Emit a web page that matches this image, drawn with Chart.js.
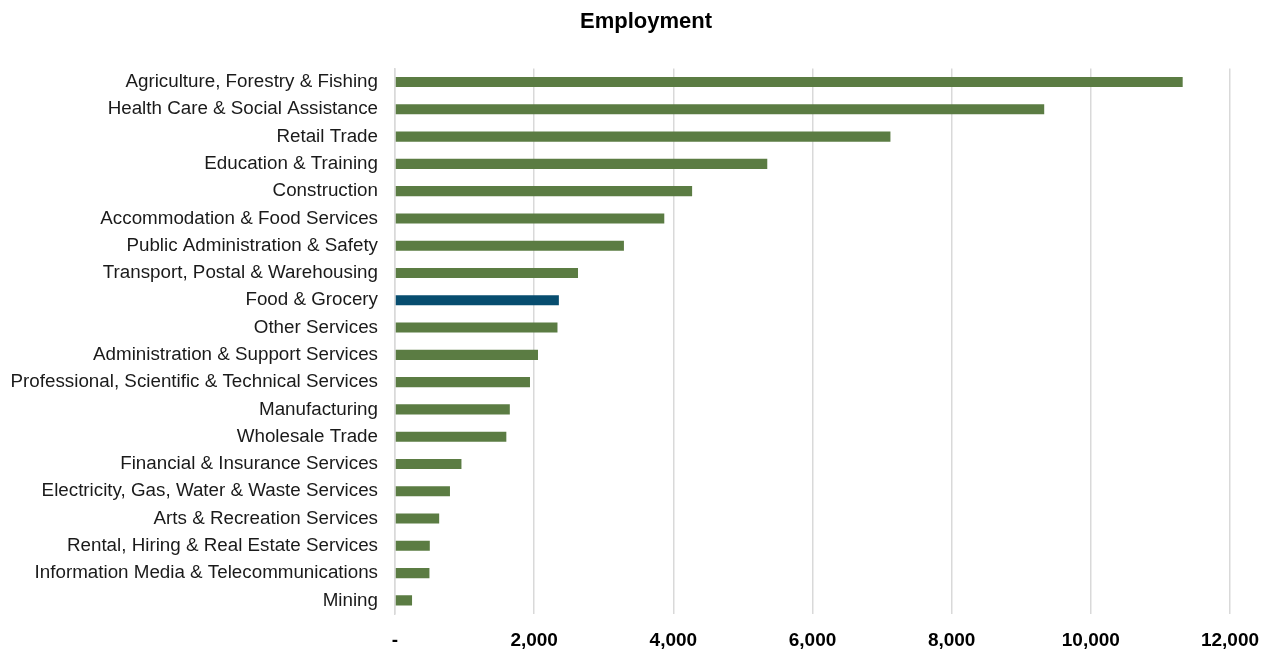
<!DOCTYPE html>
<html>
<head>
<meta charset="utf-8">
<script src="https://cdn.jsdelivr.net/npm/chart.js@4"></script>
<style>
  body { margin: 0; background: #fff; }
  #wrap { width: 1277px; height: 652px; }
</style>
</head>
<body>
<div id="wrap"><canvas id="employment" width="1277" height="652"></canvas></div>
<script>
const industries = [
  'Agriculture, Forestry & Fishing',
  'Health Care & Social Assistance',
  'Retail Trade',
  'Education & Training',
  'Construction',
  'Accommodation & Food Services',
  'Public Administration & Safety',
  'Transport, Postal & Warehousing',
  'Food & Grocery',
  'Other Services',
  'Administration & Support Services',
  'Professional, Scientific & Technical Services',
  'Manufacturing',
  'Wholesale Trade',
  'Financial & Insurance Services',
  'Electricity, Gas, Water & Waste Services',
  'Arts & Recreation Services',
  'Rental, Hiring & Real Estate Services',
  'Information Media & Telecommunications',
  'Mining'
];
const employed = [11320, 9330, 7120, 5350, 4270, 3870, 3290, 2630, 2355, 2335, 2055, 1940, 1650, 1600, 955, 790, 635, 500, 495, 245];
const xTicks = [0, 2000, 4000, 6000, 8000, 10000, 12000];

const green = '#5b7c43';
const blue = '#074d6f';
const highlight = 'Food & Grocery';
const barColors = industries.map(n => n === highlight ? blue : green);

const ctx = document.getElementById('employment');

// title sits a bit right of the plot centre in the original
const shiftTitle = {
  id: 'shiftTitle',
  afterLayout(chart) {
    if (chart.titleBlock) chart.titleBlock.right = chart.width + 15;
  }
};

new Chart(ctx, {
  type: 'bar',
  data: {
    labels: industries,
    datasets: [{
      label: 'Employment',
      data: employed,
      backgroundColor: barColors,
      borderWidth: 0,
      categoryPercentage: 1,
      barPercentage: 0.37
    }]
  },
  plugins: [shiftTitle],
  options: {
    indexAxis: 'y',
    responsive: false,
    animation: false,
    layout: {
      padding: { left: 0, right: 47, top: 0, bottom: 0 }
    },
    plugins: {
      legend: { display: false },
      tooltip: { enabled: false },
      title: {
        display: true,
        text: 'Employment',
        color: '#000',
        font: { family: 'Liberation Sans', size: 22, weight: 'bold' },
        padding: { top: 9, bottom: 33 }
      }
    },
    scales: {
      x: {
        min: 0,
        max: 12000,
        afterBuildTicks: axis => { axis.ticks = xTicks.map(v => ({ value: v })); },
        afterFit: axis => { axis.height = 38; },
        grid: { color: '#d9d9d9', lineWidth: 1.5, drawTicks: false },
        border: { display: false },
        ticks: {
          padding: 15,
          color: '#000',
          font: { family: 'Liberation Sans', size: 19, weight: 'bold' },
          callback: v => v === 0 ? '-' : v.toLocaleString('en-US')
        }
      },
      y: {
        grid: { display: false, drawTicks: false },
        border: { color: '#d9d9d9', width: 1.5 },
        afterFit: axis => { axis.width = 395; },
        ticks: {
          padding: 17,
          color: '#1a1a1a',
          autoSkip: false,
          font: { family: 'Liberation Sans', size: 18.8 }
        }
      }
    }
  }
});
</script>
</body>
</html>
